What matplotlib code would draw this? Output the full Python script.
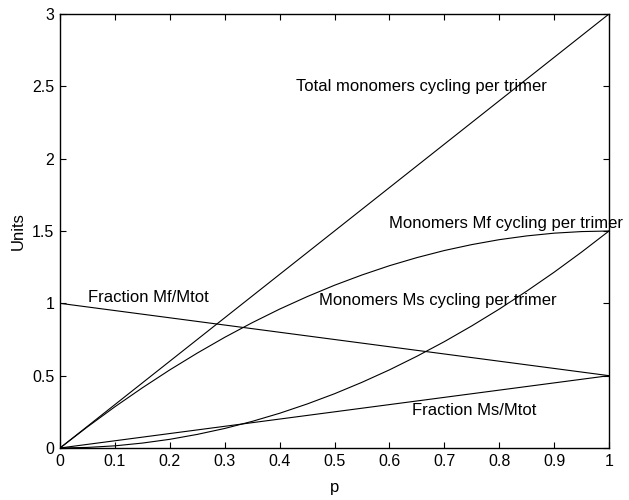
import matplotlib
matplotlib.use("Agg")
import matplotlib.pyplot as plt

plt.rcParams['font.family'] = ['Liberation Sans', 'DejaVu Sans']

p = [0.0, 0.05, 0.1, 0.15, 0.2, 0.25, 0.3, 0.35, 0.4, 0.45, 0.5,
     0.55, 0.6, 0.65, 0.7, 0.75, 0.8, 0.85, 0.9, 0.95, 1.0]
total = [0.0, 0.15, 0.3, 0.45, 0.6, 0.75, 0.9, 1.05, 1.2, 1.35, 1.5,
         1.65, 1.8, 1.95, 2.1, 2.25, 2.4, 2.55, 2.7, 2.85, 3.0]
mf = [0.0, 0.146, 0.285, 0.416, 0.54, 0.656, 0.765, 0.866, 0.96, 1.046, 1.125,
      1.196, 1.26, 1.316, 1.365, 1.406, 1.44, 1.466, 1.485, 1.496, 1.5]
ms = [0.0, 0.004, 0.015, 0.034, 0.06, 0.094, 0.135, 0.184, 0.24, 0.304, 0.375,
      0.454, 0.54, 0.634, 0.735, 0.844, 0.96, 1.084, 1.215, 1.354, 1.5]
frac_mf = [1.0, 0.975, 0.95, 0.925, 0.9, 0.875, 0.85, 0.825, 0.8, 0.775, 0.75,
           0.725, 0.7, 0.675, 0.65, 0.625, 0.6, 0.575, 0.55, 0.525, 0.5]
frac_ms = [0.0, 0.025, 0.05, 0.075, 0.1, 0.125, 0.15, 0.175, 0.2, 0.225, 0.25,
           0.275, 0.3, 0.325, 0.35, 0.375, 0.4, 0.425, 0.45, 0.475, 0.5]

xticks = [0, 0.1, 0.2, 0.3, 0.4, 0.5, 0.6, 0.7, 0.8, 0.9, 1]
xticklabels = ['0', '0.1', '0.2', '0.3', '0.4', '0.5', '0.6', '0.7', '0.8', '0.9', '1']
yticks = [0, 0.5, 1, 1.5, 2, 2.5, 3]
yticklabels = ['0', '0.5', '1', '1.5', '2', '2.5', '3']

fig = plt.figure(figsize=(6.29, 5.0), dpi=100)
ax = fig.add_axes([60/629, 52/500, 549/629, 434/500])

for s in (total, mf, ms, frac_mf, frac_ms):
    ax.plot(p, s, color='black', linewidth=0.8)

ax.set_xlim(0, 1)
ax.set_ylim(0, 3)
ax.set_xticks(xticks)
ax.set_xticklabels(xticklabels)
ax.set_yticks(yticks)
ax.set_yticklabels(yticklabels)
ax.tick_params(direction='in', top=True, right=True, length=4, width=0.8,
               labelsize=11.5, colors='black', pad=4)
for sp in ax.spines.values():
    sp.set_linewidth(1.0)

fs = 12
ax.text(0.43, 2.5, 'Total monomers cycling per trimer', fontsize=fs, va='center', ha='left')
ax.text(0.60, 1.555, 'Monomers Mf cycling per trimer', fontsize=fs, va='center', ha='left')
ax.text(0.472, 1.02, 'Monomers Ms cycling per trimer', fontsize=fs, va='center', ha='left')
ax.text(0.051, 1.04, 'Fraction Mf/Mtot', fontsize=fs, va='center', ha='left')
ax.text(0.641, 0.26, 'Fraction Ms/Mtot', fontsize=fs, va='center', ha='left')

ax.set_xlabel('p', fontsize=12, labelpad=8)
ax.set_ylabel('Units', fontsize=12, labelpad=5)

fig.savefig('out.png', dpi=100)
